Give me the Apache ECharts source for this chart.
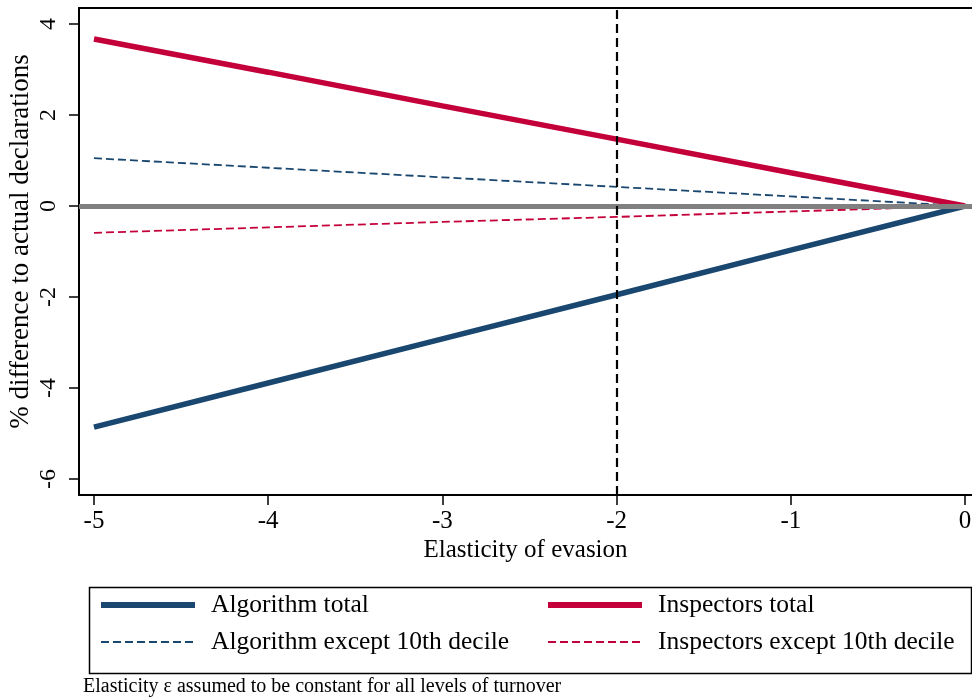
<!DOCTYPE html>
<html>
<head>
<meta charset="utf-8">
<script src="https://cdn.jsdelivr.net/npm/echarts@6/dist/echarts.min.js"></script>
<style>html,body{margin:0;padding:0;background:#fff}#c{width:972px;height:699px}</style>
</head>
<body>
<div id="c"></div>
<script>
var elasticity = [-5, -4, -3, -2, -1, 0];
var algorithmTotal = [-4.86, -3.89, -2.92, -1.95, -0.97, 0];
var inspectorsTotal = [3.67, 2.94, 2.2, 1.47, 0.73, 0];
var algorithmExcept = [1.05, 0.84, 0.63, 0.42, 0.21, 0];
var inspectorsExcept = [-0.59, -0.47, -0.35, -0.24, -0.12, 0];
var xTicks = [-5, -4, -3, -2, -1, 0];
var yTicks = [-6, -4, -2, 0, 2, 4];
var refX = -2;

var NAVY = '#1a476f', RED = '#c4003a';
var FONT = 'Liberation Serif';
function pairs(ys){ return elasticity.map(function(x,i){ return [x, ys[i]]; }); }

var legendText = { fontFamily: FONT, fontSize: 25.5, color: '#000', padding: [0,0,0,11] };

var chart = echarts.init(document.getElementById('c'));
chart.setOption({
  animation: false,
  backgroundColor: '#fff',
  textStyle: { fontFamily: FONT },
  grid: { left: 79, right: 0, top: 8, bottom: 204, show: false, containLabel: false, outerBoundsMode: 'none' },
  xAxis: [{
    type: 'value', min: -5.086, max: 0.04,
    name: 'Elasticity of evasion', nameLocation: 'middle', nameGap: 43, nameMoveOverlap: false,
    nameTextStyle: { fontFamily: FONT, fontSize: 25, color: '#000' },
    axisLine: { show: true, onZero: false, lineStyle: { color: '#000', width: 2 } },
    axisTick: { show: true, length: 10, customValues: xTicks, lineStyle: { color: '#000', width: 1.5 } },
    axisLabel: { customValues: xTicks, fontFamily: FONT, fontSize: 25, color: '#000', margin: 14 },
    splitLine: { show: false }
  }, {
    type: 'value', position: 'top', min: -5.086, max: 0.04,
    axisLine: { show: true, onZero: false, lineStyle: { color: '#000', width: 2 } },
    axisTick: { show: false }, axisLabel: { show: false }, splitLine: { show: false }
  }],
  yAxis: {
    type: 'value', min: -6.35, max: 4.35,
    name: '% difference to actual declarations', nameLocation: 'middle', nameGap: 45, nameMoveOverlap: false,
    nameTextStyle: { fontFamily: FONT, fontSize: 27, color: '#000', padding: [0, 0, 0, 20] },
    axisLine: { show: true, onZero: false, lineStyle: { color: '#000', width: 2 } },
    axisTick: { show: true, length: 10, customValues: yTicks, lineStyle: { color: '#000', width: 1.5 } },
    axisLabel: { customValues: yTicks, rotate: 90, fontFamily: FONT, fontSize: 24, color: '#000', margin: 18 },
    splitLine: { show: false }
  },
  legend: [
    { left: 98, top: 592, orient: 'vertical', padding: 0, itemWidth: 94, itemHeight: 14, itemGap: 11,
      itemStyle: { opacity: 0 }, textStyle: legendText,
      data: [ { name: 'Algorithm total', lineStyle: { width: 6 } },
              { name: 'Algorithm except 10th decile', lineStyle: { width: 1.8 } } ] },
    { left: 545, top: 592, orient: 'vertical', padding: 0, itemWidth: 94, itemHeight: 14, itemGap: 11,
      itemStyle: { opacity: 0 }, textStyle: legendText,
      data: [ { name: 'Inspectors total', lineStyle: { width: 6 } },
              { name: 'Inspectors except 10th decile', lineStyle: { width: 1.8 } } ] }
  ],
  graphic: [
    { type: 'rect', left: 87, top: 585, shape: { width: 882, height: 86 }, style: { fill: 'none', stroke: '#000', lineWidth: 1.5 }, z: 0 },
    { type: 'text', left: 83, top: 677, style: { text: 'Elasticity ε assumed to be constant for all levels of turnover', font: '20px "Liberation Serif"', fill: '#000' } }
  ],
  series: [
    { name: 'zero', type: 'line', data: [], symbol: 'none', silent: true,
      markLine: { silent: true, symbol: 'none', label: { show: false },
        data: [ { yAxis: 0, lineStyle: { color: '#808080', width: 5, type: 'solid' } },
                { xAxis: refX, lineStyle: { color: '#000', width: 2.2, type: [9, 5] } } ] } },
    { name: 'Algorithm except 10th decile', type: 'line', data: pairs(algorithmExcept), symbol: 'none',
      lineStyle: { color: NAVY, width: 1.8, type: [8, 4] }, itemStyle: { color: NAVY } },
    { name: 'Inspectors except 10th decile', type: 'line', data: pairs(inspectorsExcept), symbol: 'none',
      lineStyle: { color: RED, width: 1.8, type: [8, 4] }, itemStyle: { color: RED } },
    { name: 'Algorithm total', type: 'line', data: pairs(algorithmTotal), symbol: 'none',
      lineStyle: { color: NAVY, width: 5.5 }, itemStyle: { color: NAVY } },
    { name: 'Inspectors total', type: 'line', data: pairs(inspectorsTotal), symbol: 'none',
      lineStyle: { color: RED, width: 5.5 }, itemStyle: { color: RED } }
  ]
});
</script>
</body>
</html>
